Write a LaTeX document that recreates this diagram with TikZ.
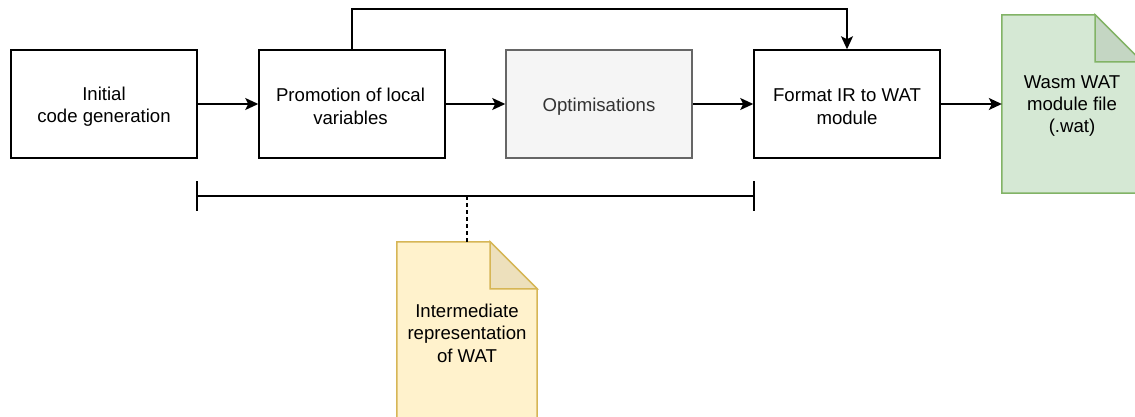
\documentclass[tikz,border=0pt]{standalone}
\usepackage{fontspec}
\setmainfont{Liberation Sans}
\usetikzlibrary{arrows.meta,backgrounds}

\definecolor{optfill}{HTML}{F5F5F5}
\definecolor{optline}{HTML}{666666}
\definecolor{opttext}{HTML}{333333}
\definecolor{watfill}{HTML}{D5E8D4}
\definecolor{watline}{HTML}{82B366}
\definecolor{watfold}{HTML}{C4D6C3}
\definecolor{irfill}{HTML}{FFF2CC}
\definecolor{irline}{HTML}{D6B656}
\definecolor{irfold}{HTML}{EDE0BC}

\tikzset{
  lbl/.style={font=\fontsize{18.6}{22.4}\selectfont, align=center, inner sep=0pt},
  stepbox/.style={draw=black, line width=1.5pt, minimum width=186pt,
    minimum height=108pt, inner sep=0pt},
  docbox/.style={minimum width=140pt, minimum height=178pt, inner sep=0pt},
  flow/.style={line width=1.5pt, -{Stealth[length=13pt,width=12pt,inset=3pt]}},
  plain/.style={line width=1.5pt},
}

% folded-corner document outline drawn behind a docbox node
\newcommand{\docshape}[4]{%
  \begin{pgfonlayer}{background}
    \filldraw[fill=#2, draw=#3, line width=1.5pt, line join=miter]
      (#1.north west) -- ([xshift=-47pt]#1.north east)
      -- ([yshift=-47pt]#1.north east) -- (#1.south east)
      -- (#1.south west) -- cycle;
    \filldraw[fill=#4, draw=#3, line width=1.5pt, line join=miter]
      ([xshift=-47pt]#1.north east) -- ([xshift=-47pt,yshift=-47pt]#1.north east)
      -- ([yshift=-47pt]#1.north east) -- cycle;
  \end{pgfonlayer}}

\begin{document}
\begin{tikzpicture}[x=1pt,y=-1pt]
  \useasboundingbox (0,0) rectangle (1135,417);
  \clip (0,0) rectangle (1135,417);

  % pipeline stages
  \node[stepbox] (init) at (104,104) {};
  \node[stepbox] (prom) at (352,104) {};
  \node[stepbox, fill=optfill, draw=optline] (opt) at (599,104) {};
  \node[stepbox] (fmt) at (847,104) {};
  \node[lbl] (init-t) at ([yshift=-2.5pt]init.center) {Initial\\code generation};
  \node[lbl] (prom-t) at ([yshift=-2.5pt,xshift=-1.5pt]prom.center) {Promotion of local\\variables};
  \node[lbl, text=opttext] (opt-t) at ([yshift=-2.5pt]opt.center) {Optimisations};
  \node[lbl] (fmt-t) at ([yshift=-2.5pt]fmt.center) {Format IR to WAT\\module};

  % output document
  \node[docbox] (wat) at (1072,104) {};
  \docshape{wat}{watfill}{watline}{watfold}
  \node[lbl] (wat-t) at ([yshift=-2pt]wat.center) {Wasm WAT\\module file\\(.wat)};

  % intermediate representation document
  \node[docbox] (ir) at (467,331) {};
  \docshape{ir}{irfill}{irline}{irfold}
  \node[lbl] (ir-t) at ([yshift=-2pt]ir.center) {Intermediate\\representation\\of WAT};

  % connectors
  \draw[flow] (init) -- (prom);
  \draw[flow] (prom) -- (opt);
  \draw[flow] (opt) -- (fmt);
  \draw[flow] (fmt) -- (wat);
  \draw[flow] (prom.north) -- ++(0,-40) -| (fmt.north);

  % span bracket over the IR stages
  \coordinate (bl) at (197,196);
  \coordinate (br) at (754,196);
  \coordinate (bm) at (467,196);
  \draw[plain] (bl) -- (br);
  \draw[plain] ([yshift=15pt]bl) -- ([yshift=-15pt]bl);
  \draw[plain] ([yshift=15pt]br) -- ([yshift=-15pt]br);
  \draw[line width=1.2pt, dash pattern=on 4pt off 3pt] (bm) -- (ir.north);
\end{tikzpicture}
\end{document}
